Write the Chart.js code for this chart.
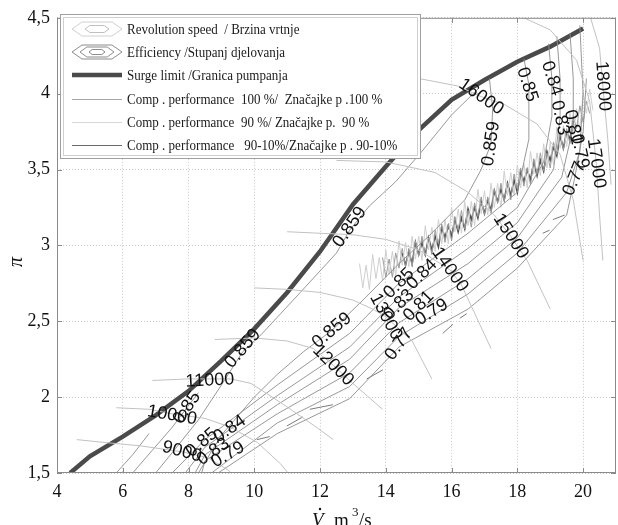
<!DOCTYPE html>
<html>
<head>
<meta charset="utf-8">
<script src="https://cdn.jsdelivr.net/npm/chart.js@4"></script>
<style>
body { margin: 0; background: #fff; }
</style>
</head>
<body>
<canvas id="map" width="618" height="525"></canvas>
<script>
// surge limit (granica pumpanja)
var surge = [[4.4,1.5],[5,1.61],[6,1.74],[7,1.88],[8,2.04],[9,2.24],[10,2.45],[11,2.69],[12,2.96],[13,3.27],[14,3.52],[15,3.76],[16,3.96],[17,4.09],[18,4.21],[19,4.31],[20,4.43]];

// revolution speed lines (brzina vrtnje)
var speed9000  = [[4.6,1.72],[5.5,1.7],[6.5,1.68],[7.8,1.64],[8.6,1.6],[9.2,1.52],[9.4,1.48]];
var speed10000 = [[5.8,1.93],[6.8,1.92],[7.5,1.89],[8.5,1.86],[9.3,1.8],[10.1,1.7],[10.8,1.56],[11.1,1.48]];
var speed11000 = [[6.9,2.11],[8.0,2.12],[8.65,2.12],[9.3,2.12],[9.9,2.09],[10.9,1.95],[11.9,1.8],[12.4,1.72]];
var speed12000 = [[8.8,2.38],[10,2.39],[11,2.37],[11.8,2.32],[12.4,2.21],[13,2.09],[13.9,1.92]];
var speed13000 = [[10,2.72],[11,2.71],[12,2.69],[13,2.64],[13.6,2.58],[14.0,2.53],[14.8,2.37],[15.4,2.12]];
var speed14000 = [[11,3.09],[12,3.08],[13,3.07],[14,3.04],[15,2.97],[15.95,2.84],[16.3,2.74],[17.2,2.32]];
var speed15000 = [[12.5,3.56],[14,3.55],[15.5,3.48],[16.5,3.35],[17.3,3.2],[17.8,3.06],[18.3,2.9],[19.0,2.58]];
var speed16000 = [[13.8,4.11],[15,4.1],[16.2,4.05],[16.9,3.98],[17.6,3.93],[18.6,3.8],[19.3,3.6],[19.7,3.3],[20.0,2.9]];
var speed17000 = [[18.0,4.52],[19.0,4.42],[19.8,4.22],[20.2,3.95],[20.4,3.54],[20.5,3.2],[20.6,2.9]];
var speed18000 = [[20.2,4.52],[20.5,4.3],[20.6,4.05],[20.75,3.7],[20.85,3.4]];

// efficiency contours (stupanj djelovanja)
var eff859L = [[7.0,1.5],[7.6,1.66],[8.3,1.85],[9.0,2.08],[9.65,2.3],[10.2,2.41],[11.4,2.69],[12.5,2.95],[12.9,3.1],[13.5,3.26],[14.3,3.42],[15.1,3.62],[16.0,3.86],[16.8,4.03]];
var eff859R = [[8.3,1.5],[9.0,1.75],[10.0,2.0],[10.7,2.15],[11.5,2.3],[12.36,2.44],[13.4,2.66],[14.4,2.88],[15.3,3.06],[16.4,3.3],[16.9,3.5],[17.2,3.67],[17.25,3.9],[17.15,4.1]];
var eff85L  = [[6.3,1.5],[6.9,1.65],[7.5,1.8],[7.95,1.93],[8.3,2.03]];
var eff84L  = [[5.8,1.5],[6.3,1.62],[6.8,1.76]];
var eff85 = [[7.5,1.5],[8.5,1.72],[10.7,2.08],[12.9,2.42],[14.4,2.75],[16.5,3.08],[18.0,3.35],[18.35,3.7],[18.35,4.06],[18.2,4.23]];
var eff84 = [[7.9,1.5],[8.5,1.67],[10.7,2.01],[12.9,2.33],[14.4,2.66],[16.5,2.98],[18.0,3.25],[18.8,3.55],[19.05,3.85],[19.05,4.1],[18.95,4.33]];
var eff83 = [[8.2,1.5],[8.5,1.62],[10.7,1.95],[12.9,2.25],[14.4,2.59],[16.5,2.88],[18.0,3.15],[19.1,3.5],[19.3,3.84],[19.3,4.1],[19.2,4.38]];
var eff81 = [[8.4,1.5],[8.5,1.58],[10.7,1.89],[12.9,2.16],[14.4,2.49],[16.5,2.78],[18.0,3.05],[19.35,3.45],[19.7,3.78],[19.7,4.1],[19.6,4.4]];
var eff79 = [[8.7,1.5],[10.7,1.83],[12.9,2.07],[14.4,2.4],[16.5,2.68],[18.0,2.95],[19.5,3.35],[19.9,3.62],[20.0,4.0],[19.9,4.45]];
var eff77 = [[8.9,1.5],[10.7,1.76],[12.9,1.99],[14.4,2.33],[16.5,2.58],[18.0,2.85],[19.5,3.2],[19.74,3.44],[20.0,3.75],[20.1,4.1]];

// short performance pieces below the fan
var perfPieces = [
  [[10.08,1.72],[10.47,1.74]], [[10.99,1.81],[11.48,1.87]], [[11.69,1.92],[12.39,1.95]],
  [[13.42,2.12],[13.91,2.18]], [[15.73,2.42],[16.04,2.48]], [[16.25,2.52],[16.46,2.55]],
  [[18.77,3.08],[18.98,3.10]], [[19.08,3.17],[19.44,3.20]]];

// compressor performance, measured
var perf90 = [[13.2,2.88],[13.3,2.72],[13.4,2.87],[13.5,2.71],[13.6,2.94],[13.7,2.78],[13.8,2.92],[13.9,2.77],[14.0,2.97],[14.1,2.81],[14.2,2.96],[14.3,2.80],
  [14.4,3.03],[14.5,2.87],[14.6,3.02],[14.7,2.86],[14.8,3.06],[14.9,2.91],[15.0,3.06],[15.1,2.90],[15.2,3.13],[15.3,2.97],[15.4,3.12],[15.5,2.96],
  [15.6,3.17],[15.7,3.01],[15.8,3.17],[15.9,3.01],[16.0,3.25],[16.1,3.09],[16.2,3.24],[16.3,3.08],[16.4,3.29],[16.5,3.13],[16.6,3.29],[16.7,3.13],
  [16.8,3.37],[16.9,3.21],[17.0,3.36],[17.1,3.20],[17.2,3.41],[17.3,3.25],[17.4,3.41],[17.5,3.25],[17.6,3.49],[17.7,3.33],[17.8,3.48],[17.9,3.33],
  [18.0,3.53],[18.1,3.38],[18.2,3.54],[18.3,3.38],[18.4,3.62],[18.5,3.47],[18.6,3.61],[18.7,3.46],[18.8,3.67],[18.9,3.51],[19.0,3.68],[19.1,3.53],
  [19.2,3.78],[19.3,3.64],[19.4,3.79],[19.5,3.65],[19.6,3.87],[19.7,3.73],[19.8,3.90],[19.9,3.76],[20.0,4.01],[20.1,3.87],[20.2,4.03],[20.3,3.89]];
var perf100 = [[13.9,2.92],[14.0,2.79],[14.1,2.91],[14.2,2.79],[14.3,2.95],[14.4,2.85],[14.5,2.98],[14.6,2.86],[14.7,2.98],[14.8,2.86],[14.9,3.03],[15.0,2.93],
  [15.1,3.06],[15.2,2.93],[15.3,3.05],[15.4,2.94],[15.5,3.10],[15.6,3.01],[15.7,3.14],[15.8,3.02],[15.9,3.14],[16.0,3.03],[16.1,3.19],[16.2,3.10],
  [16.3,3.23],[16.4,3.11],[16.5,3.23],[16.6,3.12],[16.7,3.28],[16.8,3.19],[16.9,3.32],[17.0,3.20],[17.1,3.32],[17.2,3.21],[17.3,3.37],[17.4,3.28],
  [17.5,3.41],[17.6,3.29],[17.7,3.41],[17.8,3.30],[17.9,3.47],[18.0,3.37],[18.1,3.51],[18.2,3.39],[18.3,3.51],[18.4,3.40],[18.5,3.57],[18.6,3.47],
  [18.7,3.61],[18.8,3.49],[18.9,3.61],[19.0,3.51],[19.1,3.68],[19.2,3.60],[19.3,3.75],[19.4,3.63],[19.5,3.77],[19.6,3.67],[19.7,3.85],[19.8,3.77],
  [19.9,3.92],[20.0,3.81],[20.1,3.95],[20.2,3.87]];
var perf9010 = [[14.5,2.95],[14.6,2.87],[14.7,2.96],[14.8,2.88],[14.9,3.02],[15.0,2.94],[15.1,3.02],[15.2,2.94],[15.3,3.05],[15.4,2.97],[15.5,3.06],[15.6,2.99],
  [15.7,3.12],[15.8,3.05],[15.9,3.13],[16.0,3.06],[16.1,3.17],[16.2,3.09],[16.3,3.18],[16.4,3.11],[16.5,3.24],[16.6,3.17],[16.7,3.25],[16.8,3.18],
  [16.9,3.29],[17.0,3.21],[17.1,3.30],[17.2,3.23],[17.3,3.36],[17.4,3.29],[17.5,3.37],[17.6,3.30],[17.7,3.41],[17.8,3.33],[17.9,3.43],[18.0,3.35],
  [18.1,3.49],[18.2,3.42],[18.3,3.50],[18.4,3.43],[18.5,3.55],[18.6,3.46],[18.7,3.56],[18.8,3.49],[18.9,3.62],[19.0,3.56],[19.1,3.65],[19.2,3.59],
  [19.3,3.72],[19.4,3.64],[19.5,3.75],[19.6,3.70],[19.7,3.82]];

// contour labels: text, x, y, angle
var speedLabels = [['9000',7.8,1.64,15],['10000',7.5,1.88,10],['11000',8.65,2.11,-3],['12000',12.4,2.21,45],['13000',14.0,2.53,62],
  ['14000',15.95,2.84,55],['15000',17.8,3.06,57],['16000',16.9,3.98,35],['17000',20.4,3.54,82],['18000',20.6,4.05,86]];
var effLabels = [['0.859',9.65,2.32,-50],['0.859',12.9,3.12,-55],['0.859',12.36,2.44,-40],['0.859',17.2,3.67,-82],
  ['0.85',7.95,1.93,-55],['0.85',8.4,1.7,-40],['0.84',9.25,1.79,-35],['0.83',8.75,1.64,-35],['0.79',9.2,1.62,-30],
  ['0.85',14.4,2.75,-45],['0.84',15.1,2.81,-45],['0.83',14.4,2.61,-45],['0.81',15.0,2.6,-45],['0.79',15.4,2.56,-32],['0.77',14.4,2.35,-55],
  ['0.85',18.3,4.06,72],['0.84',19.05,4.1,72],['0.83',19.3,3.84,78],['0.81',19.7,3.78,78],['0.79',19.9,3.62,78],['0.77',19.74,3.44,-68]];

var legendRows = ['Revolution speed  / Brzina vrtnje','Efficiency /Stupanj djelovanja','Surge limit /Granica pumpanja',
  'Comp . performance  100 %/  Značajke p .100 %','Comp . performance  90 %/ Značajke p.  90 %','Comp . performance   90-10%/Značajke p . 90-10%'];

function pts(a) { return a.map(function(p) { return {x: p[0], y: p[1]}; }); }
function line(a, color, w) {
  return { data: pts(a), showLine: true, borderColor: color, borderWidth: w, pointRadius: 0, tension: 0, fill: false };
}

var speedColor = '#c2c2c2', effColor = '#8c8c8c';
var datasets = [];
[speed9000, speed10000, speed11000, speed12000, speed13000, speed14000, speed15000, speed16000, speed17000, speed18000].forEach(function(s) {
  datasets.push(line(s, speedColor, 1));
});
[eff859L, eff859R, eff85L, eff84L, eff85, eff84, eff83, eff81, eff79, eff77].forEach(function(s) {
  datasets.push(line(s, effColor, 0.9));
});
perfPieces.forEach(function(s) { datasets.push(line(s, '#7a7a7a', 1)); });
datasets.push(line(perf90, '#cfcfcf', 1));
datasets.push(line(perf100, '#9a9a9a', 1));
datasets.push(line(perf9010, '#4e4e4e', 1.6));
datasets.push(line(surge, '#4a4a4a', 4.5));

var framePlugin = {
  id: 'frame',
  afterDatasetsDraw: function(chart) {
    var c = chart.ctx, a = chart.chartArea, xs = chart.scales.x, ys = chart.scales.y;
    c.save();
    c.strokeStyle = '#8a8a8a';
    c.lineWidth = 1;
    c.strokeRect(a.left + 0.5, a.top + 0.5, a.right - a.left - 1, a.bottom - a.top - 1);
    c.beginPath();
    xs.ticks.forEach(function(t) {
      var px = Math.round(xs.getPixelForValue(t.value)) + 0.5;
      c.moveTo(px, a.bottom); c.lineTo(px, a.bottom - 5);
      c.moveTo(px, a.top); c.lineTo(px, a.top + 5);
    });
    ys.ticks.forEach(function(t) {
      var py = Math.round(ys.getPixelForValue(t.value)) + 0.5;
      c.moveTo(a.left, py); c.lineTo(a.left + 5, py);
      c.moveTo(a.right, py); c.lineTo(a.right - 5, py);
    });
    c.stroke();

    // contour labels
    c.fillStyle = '#111';
    c.font = '18px "Liberation Sans"';
    c.textAlign = 'center';
    c.textBaseline = 'middle';
    speedLabels.concat(effLabels).forEach(function(l) {
      c.save();
      c.translate(xs.getPixelForValue(l[1]), ys.getPixelForValue(l[2]));
      c.rotate(l[3] * Math.PI / 180);
      c.fillText(l[0], 0, 0);
      c.restore();
    });

    // axis titles
    c.textAlign = 'left';
    c.textBaseline = 'alphabetic';
    c.font = 'italic 19px "Liberation Serif"';
    c.fillText('V', 312, 526);
    c.beginPath(); c.arc(320, 509, 1.2, 0, 2 * Math.PI); c.fill();
    c.font = '19px "Liberation Serif"';
    c.fillText('m', 334, 526);
    c.font = '13px "Liberation Serif"';
    c.fillText('3', 352, 516);
    c.font = '19px "Liberation Serif"';
    c.fillText('/s', 359, 526);
    c.save();
    c.translate(22, 262);
    c.rotate(-Math.PI / 2);
    c.font = 'italic 20px "Liberation Serif"';
    c.textAlign = 'center';
    c.fillText('π', 0, 0);
    c.restore();

    // legend
    var L = 60, T = 14, W = 360, H = 144;
    c.fillStyle = '#fff';
    c.fillRect(L, T, W, H);
    c.strokeStyle = '#a0a0a0';
    c.strokeRect(L + 0.5, T + 0.5, W, H);
    c.strokeStyle = '#d0d0d0';
    c.strokeRect(L + 3.5, T + 3.5, W - 6, H - 6);
    var rowY = [29, 52, 75, 99, 122, 145];
    function ring(cx, cy, rx, ry, col) {
      c.beginPath();
      c.moveTo(cx - rx, cy);
      c.lineTo(cx - rx * 0.6, cy - ry);
      c.lineTo(cx + rx * 0.6, cy - ry);
      c.lineTo(cx + rx, cy);
      c.lineTo(cx + rx * 0.6, cy + ry);
      c.lineTo(cx - rx * 0.6, cy + ry);
      c.closePath();
      c.strokeStyle = col; c.lineWidth = 1; c.stroke();
    }
    ring(97, rowY[0], 25, 7, '#d0d0d0'); ring(97, rowY[0], 12, 3.5, '#c0c0c0');
    ring(97, rowY[1], 25, 7, '#8c8c8c'); ring(97, rowY[1], 17, 5, '#8c8c8c'); ring(97, rowY[1], 8, 2.5, '#8c8c8c');
    c.lineWidth = 4.5; c.strokeStyle = '#4a4a4a';
    c.beginPath(); c.moveTo(72, rowY[2]); c.lineTo(122, rowY[2]); c.stroke();
    c.lineWidth = 1;
    [['#a6a6a6', 3], ['#d8d8d8', 4], ['#6a6a6a', 5]].forEach(function(s) {
      c.strokeStyle = s[0];
      c.beginPath(); c.moveTo(72, rowY[s[1]] + 0.5); c.lineTo(122, rowY[s[1]] + 0.5); c.stroke();
    });
    c.fillStyle = '#1a1a1a';
    c.textBaseline = 'middle';
    c.font = '14px "Liberation Serif"';
    legendRows.forEach(function(t, i) {
      c.save();
      c.translate(127, rowY[i] + 1);
      c.scale(0.93, 1);
      c.fillText(t, 0, 0);
      c.restore();
    });
    c.restore();
  }
};

var ctx = document.getElementById('map').getContext('2d');
new Chart(ctx, {
  type: 'scatter',
  data: { datasets: datasets },
  options: {
    responsive: false,
    animation: false,
    layout: { padding: { top: 12, right: 2, left: 0, bottom: 0 } },
    plugins: { legend: { display: false }, tooltip: { enabled: false } },
    scales: {
      x: {
        type: 'linear', min: 4, max: 21,
        afterBuildTicks: function(s) { s.ticks = s.ticks.filter(function(t) { return t.value % 2 === 0; }); },
        afterFit: function(s) { s.height = 52; },
        ticks: { stepSize: 2, font: { family: 'Liberation Serif', size: 18 }, color: '#111', padding: 8 },
        grid: { color: '#c8c8c8', lineWidth: 1, drawTicks: false },
        border: { display: false, dash: [1, 2] }
      },
      y: {
        type: 'linear', min: 1.5, max: 4.5,
        afterFit: function(s) { s.width = 57; },
        ticks: { stepSize: 0.5, font: { family: 'Liberation Serif', size: 18 }, color: '#111', padding: 7,
          callback: function(v) { return String(v).replace('.', ','); } },
        grid: { color: '#c8c8c8', lineWidth: 1, drawTicks: false },
        border: { display: false, dash: [1, 2] }
      }
    }
  },
  plugins: [framePlugin]
});
</script>
</body>
</html>
